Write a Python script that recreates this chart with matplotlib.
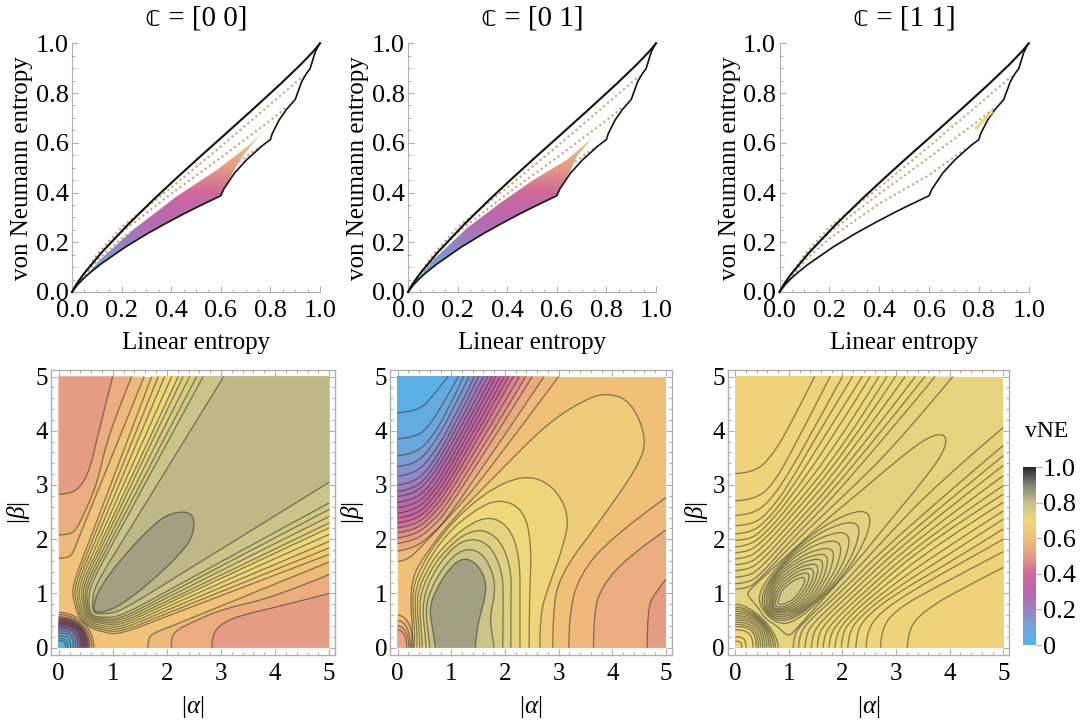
import numpy as np
import matplotlib
matplotlib.use('Agg')
import matplotlib.pyplot as plt
from matplotlib.colors import LinearSegmentedColormap
from matplotlib.patches import PathPatch, Polygon
from matplotlib.path import Path
from matplotlib.ticker import MultipleLocator, FormatStrFormatter

plt.rcParams['font.family'] = ['Liberation Serif', 'DejaVu Sans']
plt.rcParams['mathtext.fontset'] = 'custom'
plt.rcParams['mathtext.rm'] = 'Liberation Serif'
plt.rcParams['mathtext.it'] = 'Liberation Serif:italic'

W, H = 1081, 722

titles = ['\U0001D554 = [0 0]', '\U0001D554 = [0 1]', '\U0001D554 = [1 1]']

# colour scale
cbar_stops = [0.0, 0.1, 0.2, 0.3, 0.4, 0.5, 0.6, 0.7, 0.8, 0.9, 1.0]
cbar_cols = ['#54b4ea', '#6ea6dc', '#9a80c4', '#bb66ad', '#d0689c', '#e69a85',
             '#f0c079', '#efd87a', '#c6c28b', '#85827a', '#262626']
vne = LinearSegmentedColormap.from_list('vne', list(zip(cbar_stops, cbar_cols)))

# ---- top row: entropy boundaries (linear entropy, von Neumann entropy)
upper_bound = [(0, 0), (0.012, 0.022), (0.0239, 0.0402), (0.0474, 0.0727), (0.1164, 0.1557), (0.2256, 0.271),
               (0.3276, 0.3706), (0.4224, 0.459), (0.51, 0.5385), (0.5904, 0.610), (0.7296, 0.735),
               (0.84, 0.836), (0.9216, 0.914), (0.9744, 0.969), (1, 1)]
lower_rank2 = [(0, 0), (0.0238, 0.0312), (0.047, 0.0547), (0.0698, 0.0752), (0.114, 0.1108), (0.216, 0.1815),
               (0.306, 0.2359), (0.384, 0.279), (0.45, 0.3138), (0.504, 0.341), (0.576, 0.3756), (0.6, 0.387)]
lower_rest = [(0.612, 0.414), (0.655, 0.478), (0.702, 0.5296), (0.768, 0.589), (0.8, 0.613), (0.8079, 0.638),
              (0.836, 0.693), (0.864, 0.733), (0.9, 0.774), (0.9263, 0.846), (0.945, 0.878), (0.96, 0.898),
              (0.9804, 0.964), (0.9936, 0.990), (1, 1)]
dotted_1 = [(0, 0), (0.1, 0.15), (0.2, 0.26), (0.4, 0.42), (0.6, 0.585), (0.8, 0.755), (0.933, 0.869)]
dotted_2 = [(0, 0), (0.1, 0.14), (0.2, 0.24), (0.4, 0.395), (0.6, 0.54), (0.8, 0.69), (0.865, 0.743)]
dotted_3 = [(0, 0), (0.1, 0.125), (0.2, 0.215), (0.4, 0.355), (0.6, 0.47), (0.75, 0.578)]

region_00 = lower_rank2 + [(0.626, 0.437), (0.653, 0.49), (0.69, 0.548), (0.75, 0.622), (0.805, 0.678),
                           (0.72, 0.595), (0.583, 0.49), (0.42, 0.383), (0.247, 0.25), (0.113, 0.13)]
region_01 = lower_rank2 + [(0.626, 0.437), (0.653, 0.484), (0.68, 0.544), (0.747, 0.625), (0.82, 0.69),
                           (0.72, 0.60), (0.64, 0.531), (0.505, 0.45), (0.371, 0.357), (0.237, 0.256), (0.102, 0.129)]
segment_11 = [(0.79, 0.66), (0.85, 0.722)]

# ---- bottom left: c = [0 0], symmetric in |alpha| <-> |beta|
p1_base = 0.61
p1_side_levels = [0.50, 0.55, 0.585]
p1_side_curves = [
    [(0, 2.83), (0.18, 2.83), (0.39, 2.94), (0.58, 3.28), (0.76, 4.08), (1.0, 5)],
    [(0, 2.08), (0.15, 2.08), (0.3, 2.14), (0.45, 2.42), (0.72, 3.04), (0.92, 3.96), (1.35, 5)],
    [(0, 1.65), (0.17, 1.65), (0.27, 1.75), (0.36, 2.0), (0.75, 2.95), (1.58, 5)],
]
p1_fan_levels = [0.64, 0.66, 0.68, 0.70, 0.72, 0.74, 0.755, 0.77, 0.79, 0.815]
p1_fan_top = [1.72, 1.84, 1.96, 2.09, 2.21, 2.30, 2.42, 2.55, 2.67, 3.05]
p1_fan_b200 = [0.58, 0.63, 0.69, 0.75, 0.81, 0.86, 0.92, 0.98, 1.04, 1.20]
p1_fan_b115 = [0.25, 0.29, 0.33, 0.37, 0.41, 0.45, 0.49, 0.53, 0.58, 0.67]
p1_fan_b085 = [0.27, 0.31, 0.35, 0.39, 0.43, 0.46, 0.49, 0.52, 0.55, 0.62]
p1_fan_diag = [0.43, 0.45, 0.47, 0.49, 0.51, 0.53, 0.55, 0.57, 0.59, 0.63]
p1_peak_level = 0.855
p1_peak = [(0.64, 0.64), (0.66, 0.87), (0.8, 1.17), (1.22, 1.72), (1.78, 2.3), (2.1, 2.5), (2.5, 2.5)]
p1_core_r = [0.65, 0.61, 0.57, 0.55, 0.53, 0.51, 0.49, 0.47, 0.45, 0.43, 0.41, 0.38, 0.35, 0.31, 0.27, 0.22, 0.17, 0.13]
p1_core_c = [0.55, 0.55, 0.6, 0.6, 0.62, 0.64, 0.66, 0.68, 0.7, 0.7, 0.72, 0.72, 0.75, 0.75, 0.78, 0.8, 0.8, 0.8]
p1_core_levels = [0.58, 0.55, 0.50, 0.46, 0.42, 0.38, 0.35, 0.32, 0.29, 0.26, 0.23, 0.20, 0.16, 0.12, 0.08, 0.03, 0.02, 0.01]

# ---- bottom middle: c = [0 1]
p2_base = 0.60
p2_left_levels = [0.03, 0.06, 0.09, 0.12, 0.15, 0.18, 0.21, 0.24, 0.27, 0.30, 0.33, 0.36, 0.39, 0.42, 0.45, 0.48, 0.51, 0.54, 0.58]
p2_left_curves = [
    [(0, 4.33), (0.36, 4.36), (0.6, 4.57), (0.82, 4.85), (0.94, 5)],
    [(0, 3.85), (0.35, 3.88), (0.6, 4.1), (0.85, 4.5), (1.13, 5)],
    [(0, 3.54), (0.3, 3.57), (0.6, 3.82), (0.9, 4.3), (1.23, 5)],
    [(0, 3.34), (0.3, 3.37), (0.6, 3.65), (0.95, 4.22), (1.33, 5)],
    [(0, 3.16), (0.3, 3.2), (0.6, 3.47), (1.0, 4.12), (1.43, 5)],
    [(0, 3.0), (0.3, 3.04), (0.6, 3.32), (1.0, 3.97), (1.51, 5)],
    [(0, 2.88), (0.3, 2.92), (0.6, 3.2), (1.0, 3.85), (1.6, 5)],
    [(0, 2.79), (0.3, 2.83), (0.6, 3.1), (1.0, 3.72), (1.68, 5)],
    [(0, 2.68), (0.3, 2.72), (0.6, 2.98), (1.0, 3.6), (1.76, 5)],
    [(0, 2.58), (0.3, 2.62), (0.6, 2.87), (1.0, 3.47), (1.83, 5)],
    [(0, 2.48), (0.3, 2.52), (0.6, 2.77), (1.0, 3.35), (1.91, 5)],
    [(0, 2.39), (0.3, 2.43), (0.6, 2.67), (1.0, 3.23), (1.99, 5)],
    [(0, 2.30), (0.3, 2.34), (0.6, 2.57), (1.0, 3.1), (2.07, 5)],
    [(0, 2.21), (0.3, 2.25), (0.6, 2.47), (1.0, 2.98), (2.16, 5)],
    [(0, 2.12), (0.3, 2.16), (0.6, 2.38), (1.0, 2.85), (2.27, 5)],
    [(0, 2.02), (0.3, 2.07), (0.6, 2.28), (1.0, 2.72), (2.39, 5)],
    [(0, 1.92), (0.3, 1.97), (0.6, 2.17), (1.0, 2.6), (2.51, 5)],
    [(0, 1.78), (0.3, 1.83), (0.6, 2.05), (1.0, 2.45), (2.73, 5)],
    [(0, 1.59), (0.17, 1.6), (0.45, 1.87), (0.91, 2.36), (1.53, 3.04), (3.0, 5)],
]
p2_right_levels = [0.50, 0.55, 0.58]
p2_right_curves = [
    [(4.65, 0), (4.65, 0.7), (4.79, 1.01), (5, 1.26)],
    [(3.65, 0), (3.65, 0.64), (3.8, 1.13), (4.3, 1.69), (5, 2.17)],
    [(3.19, 0), (3.19, 0.58), (3.37, 1.32), (3.99, 2.05), (5, 2.77)],
]
p2_hill_levels = [0.65, 0.68, 0.70, 0.72, 0.74, 0.76, 0.79, 0.855]
p2_hill_curves = [
    [(0.26, 0), (0.29, 0.3), (0.24, 0.75), (0.27, 1.3), (0.5, 1.7), (1.0, 2.35), (1.8, 3.15), (2.8, 4.15),
     (3.5, 4.58), (3.9, 4.7), (4.35, 4.55), (4.65, 3.85), (4.48, 3.34), (3.79, 2.36), (3.0, 1.32), (2.89, 0.58), (2.89, 0)],
    [(0.31, 0), (0.33, 0.3), (0.27, 0.8), (0.32, 1.3), (0.85, 2.15), (1.6, 2.85), (2.35, 3.2), (2.9, 3.0),
     (3.2, 2.45), (3.1, 1.9), (2.8, 1.1), (2.65, 0.6), (2.65, 0)],
    [(0.36, 0), (0.37, 0.3), (0.31, 0.8), (0.37, 1.25), (0.85, 2.05), (1.45, 2.55), (1.9, 2.75), (2.35, 2.55),
     (2.5, 1.9), (2.45, 0.8), (2.45, 0)],
    [(0.41, 0), (0.41, 0.3), (0.35, 0.8), (0.42, 1.2), (0.8, 1.85), (1.55, 2.44), (2.05, 2.3), (2.28, 1.7), (2.28, 0.8), (2.28, 0)],
    [(0.46, 0), (0.45, 0.3), (0.40, 0.75), (0.47, 1.15), (0.78, 1.7), (1.35, 2.2), (1.85, 2.1), (2.12, 1.5), (2.11, 0.8), (2.11, 0)],
    [(0.53, 0), (0.51, 0.3), (0.46, 0.7), (0.53, 1.1), (0.8, 1.6), (1.22, 2.02), (1.7, 1.95), (1.96, 1.4), (1.97, 0.8), (1.96, 0)],
    [(0.6, 0), (0.57, 0.3), (0.52, 0.65), (0.58, 1.0), (0.85, 1.5), (1.2, 1.83), (1.55, 1.78), (1.78, 1.4), (1.82, 1.0), (1.72, 0.6), (1.75, 0.3), (1.8, 0)],
    [(0.70, 0), (0.68, 0.2), (0.62, 0.5), (0.6, 0.77), (0.72, 1.08), (0.95, 1.45), (1.2, 1.66), (1.45, 1.58),
     (1.63, 1.3), (1.65, 1.0), (1.55, 0.65), (1.47, 0.3), (1.45, 0)],
]
p2_core_rx = [0.29, 0.24, 0.21, 0.17]
p2_core_ry = [0.60, 0.50, 0.40, 0.33]
p2_core_levels = [0.585, 0.57, 0.55, 0.53]

# ---- bottom right: c = [1 1], symmetric again
p3_base = 0.722
p3_side_levels = [0.668, 0.676, 0.682, 0.687, 0.691, 0.695, 0.698, 0.701, 0.704, 0.707, 0.710, 0.713, 0.716, 0.719]
p3_side_curves = [
    [(0, 3.21), (0.35, 3.22), (0.7, 3.55), (1.05, 4.15), (1.48, 5)],
    [(0, 2.71), (0.35, 2.72), (0.7, 3.0), (1.1, 3.7), (1.77, 5)],
    [(0, 2.44), (0.3, 2.45), (0.65, 2.7), (1.05, 3.3), (1.5, 4.1), (2.0, 5)],
    [(0, 2.25), (0.3, 2.26), (0.6, 2.47), (1.0, 3.0), (1.6, 4.05), (2.19, 5)],
    [(0, 2.10), (0.25, 2.11), (0.55, 2.3), (1.0, 2.85), (1.7, 3.95), (2.37, 5)],
    [(0, 1.98), (0.25, 1.99), (0.5, 2.15), (1.0, 2.72), (1.8, 3.85), (2.52, 5)],
    [(0, 1.86), (0.2, 1.87), (0.5, 2.04), (1.0, 2.6), (1.9, 3.75), (2.68, 5)],
    [(0, 1.75), (0.2, 1.76), (0.45, 1.9), (1.0, 2.48), (2.0, 3.68), (2.83, 5)],
    [(0, 1.64), (0.2, 1.65), (0.45, 1.79), (1.0, 2.37), (2.0, 3.53), (2.99, 5)],
    [(0, 1.53), (0.2, 1.54), (0.45, 1.67), (1.0, 2.26), (2.0, 3.38), (3.17, 5)],
    [(0, 1.42), (0.2, 1.43), (0.45, 1.56), (1.0, 2.15), (2.0, 3.23), (3.36, 5)],
    [(0, 1.30), (0.2, 1.31), (0.45, 1.44), (1.0, 2.05), (2.0, 3.09), (3.54, 5)],
    [(0, 1.18), (0.2, 1.19), (0.45, 1.32), (1.0, 1.95), (2.0, 2.94), (3.73, 5)],
    [(0, 1.08), (0.2, 1.09), (0.4, 1.2), (1.0, 1.85), (2.0, 2.78), (3.0, 3.74), (4.06, 5)],
]
p3_ridge_levels = [0.726, 0.729, 0.732, 0.735, 0.738, 0.741, 0.744, 0.747, 0.750, 0.753, 0.756, 0.76]
p3_ridge_curves = [
    [(0.54, 0.54), (0.42, 0.76), (0.2, 0.98), (0.3, 1.1), (1.0, 1.73), (1.6, 2.28), (2.3, 2.85), (3.0, 3.44), (3.6, 3.9), (3.95, 3.95)],
    [(0.565, 0.565), (0.38, 1.0), (0.93, 1.66), (1.54, 2.18), (2.14, 2.5), (2.52, 2.52)],
    [(0.58, 0.58), (0.45, 0.98), (0.88, 1.57), (1.43, 2.04), (1.97, 2.3), (2.31, 2.31)],
    [(0.595, 0.595), (0.5, 0.97), (0.83, 1.49), (1.33, 1.9), (1.81, 2.12), (2.12, 2.12)],
    [(0.61, 0.61), (0.55, 0.96), (0.79, 1.41), (1.25, 1.78), (1.68, 1.97), (1.96, 1.96)],
    [(0.63, 0.63), (0.59, 0.95), (0.77, 1.34), (1.19, 1.67), (1.57, 1.83), (1.83, 1.83)],
    [(0.65, 0.65), (0.63, 0.94), (0.76, 1.28), (1.14, 1.58), (1.49, 1.72), (1.72, 1.72)],
    [(0.67, 0.67), (0.66, 0.93), (0.77, 1.23), (1.11, 1.5), (1.42, 1.63), (1.63, 1.63)],
    [(0.69, 0.69), (0.69, 0.92), (0.79, 1.19), (1.08, 1.42), (1.35, 1.54), (1.54, 1.54)],
    [(0.71, 0.71), (0.72, 0.92), (0.82, 1.15), (1.05, 1.34), (1.29, 1.46), (1.46, 1.46)],
    [(0.74, 0.74), (0.76, 0.93), (0.85, 1.11), (1.03, 1.27), (1.23, 1.37), (1.38, 1.38)],
    [(0.78, 0.78), (0.82, 0.95), (0.885, 1.08), (1.03, 1.2), (1.19, 1.29), (1.3, 1.3)],
]
p3_core_r = [0.80, 0.75, 0.71, 0.67, 0.63, 0.59, 0.55, 0.51, 0.47, 0.43, 0.39, 0.33, 0.20, 0.12]
p3_core_c = [0.4, 0.45, 0.5, 0.55, 0.6, 0.64, 0.66, 0.7, 0.7, 0.72, 0.75, 0.75, 0.8, 0.8]
p3_core_levels = [0.73, 0.728, 0.726, 0.724, 0.722, 0.72, 0.716, 0.712, 0.708, 0.704, 0.70, 0.695, 0.69, 0.685]

LINE = (0.2, 0.2, 0.14, 0.55)
FRAME = '#b0b0b0'


def px_axes(fig, left, right, top, bottom):
    return fig.add_axes([left / W, 1 - bottom / H, (right - left) / W, (bottom - top) / H])


def swap(pts):
    return [(y, x) for x, y in pts]


def smooth(pts):
    # vertices as control points of quadratic pieces
    verts, codes = [pts[0]], [Path.MOVETO]
    for i in range(1, len(pts) - 1):
        p, q = pts[i], pts[i + 1]
        end = q if i == len(pts) - 2 else ((p[0] + q[0]) / 2, (p[1] + q[1]) / 2)
        verts += [p, end]
        codes += [Path.CURVE3, Path.CURVE3]
    return verts, codes


def smooth_closed(pts):
    n = len(pts)
    mid = lambda a, b: ((a[0] + b[0]) / 2, (a[1] + b[1]) / 2)
    verts, codes = [mid(pts[-1], pts[0])], [Path.MOVETO]
    for i in range(n):
        verts += [pts[i], mid(pts[i], pts[(i + 1) % n])]
        codes += [Path.CURVE3, Path.CURVE3]
    return verts, codes


def draw_level(ax, verts, codes, level, corners):
    fill = Path(verts + list(corners) + [verts[0]], codes + [Path.LINETO] * len(corners) + [Path.CLOSEPOLY])
    ax.add_patch(PathPatch(fill, fc=vne(level), ec='none', zorder=2))
    ax.add_patch(PathPatch(Path(verts, codes), fc='none', ec=LINE, lw=0.95, zorder=3))


def draw_core(ax, rx, ry, level, c):
    verts = [(0, ry), (c * rx, ry), (rx, c * ry), (rx, 0)]
    codes = [Path.MOVETO, Path.CURVE4, Path.CURVE4, Path.CURVE4]
    draw_level(ax, verts, codes, level, [(0, 0)])


def style_map(ax):
    ax.set_xlim(-0.142, 5.107)
    ax.set_ylim(-0.135, 5.12)
    for s in ax.spines.values():
        s.set_color(FRAME)
        s.set_linewidth(1.0)
    ax.xaxis.set_major_locator(MultipleLocator(1))
    ax.yaxis.set_major_locator(MultipleLocator(1))
    ax.xaxis.set_minor_locator(MultipleLocator(0.2))
    ax.yaxis.set_minor_locator(MultipleLocator(0.2))
    ax.tick_params(which='major', direction='in', length=4, width=0.8, color=FRAME, top=True, right=True,
                   labelsize=18)
    ax.tick_params(which='minor', direction='in', length=2, width=0.8, color=FRAME, top=True, right=True)
    ax.tick_params(axis='x', pad=6)
    ax.tick_params(axis='y', pad=2)
    ax.set_xlabel(r'$|\alpha|$', fontsize=18, va='center')
    ax.xaxis.set_label_coords(0.5, -0.182)
    ax.set_ylabel(r'$|\beta|$', fontsize=18, va='center')


def draw_entropy(ax, region, title):
    for d in (dotted_1, dotted_2, dotted_3):
        ax.plot(*zip(*d), color='#c9a27c', lw=1.5, ls=(0, (1, 1.5)), zorder=1)
    if region is not None:
        img = ax.imshow(np.linspace(0, 1, 256)[:, None], extent=(0, 1, 0, 1), origin='lower', cmap=vne,
                        vmin=0, vmax=1, aspect='auto', zorder=2)
        img.set_clip_path(Polygon(region, transform=ax.transData))
    ax.plot(*zip(*upper_bound), color='#111111', lw=1.5, zorder=3, clip_on=False)
    ax.plot(*zip(*(lower_rank2 + lower_rest)), color='#111111', lw=1.2, zorder=3, clip_on=False)
    ax.set_xlim(0, 1)
    ax.set_ylim(0, 1)
    ax.spines['top'].set_visible(False)
    ax.spines['right'].set_visible(False)
    for s in ('left', 'bottom'):
        ax.spines[s].set_color(FRAME)
    ax.xaxis.set_major_locator(MultipleLocator(0.2))
    ax.yaxis.set_major_locator(MultipleLocator(0.2))
    ax.xaxis.set_minor_locator(MultipleLocator(0.05))
    ax.yaxis.set_minor_locator(MultipleLocator(0.05))
    ax.xaxis.set_major_formatter(FormatStrFormatter('%.1f'))
    ax.yaxis.set_major_formatter(FormatStrFormatter('%.1f'))
    ax.tick_params(which='major', direction='in', length=4.5, width=0.8, color=FRAME, labelsize=19)
    ax.tick_params(which='minor', direction='in', length=2.5, width=0.7, color=FRAME)
    ax.tick_params(axis='x', pad=6)
    ax.tick_params(axis='y', pad=2.5)
    ax.set_xlabel('Linear entropy', fontsize=18, va='center')
    ax.xaxis.set_label_coords(0.5, -0.205)
    ax.set_ylabel('von Neumann entropy', fontsize=18, va='center')
    ax.yaxis.set_label_coords(-0.2, 0.5)
    ax.set_title(title, fontsize=21, pad=13)


fig = plt.figure(figsize=(W / 100, H / 100), dpi=100)

top_spans = [(72, 320), (408, 656), (779.5, 1028.7)]
regions = [region_00, region_01, None]
top_axes = []
for span, reg, ttl in zip(top_spans, regions, titles):
    ax = px_axes(fig, span[0], span[1], 43.3, 292)
    draw_entropy(ax, reg, ttl)
    top_axes.append(ax)
top_axes[2].plot(*zip(*segment_11), color=vne(0.68), lw=2.2, zorder=4)

map_spans = [(51, 335), (390, 671.7), (727.7, 1009)]
ylabel_x = [18, 353, 697]
map_axes = []
for span, lx in zip(map_spans, ylabel_x):
    ax = px_axes(fig, span[0], span[1], 370, 655)
    style_map(ax)
    ax.yaxis.set_label_coords((lx - span[0]) / (span[1] - span[0]), 0.5)
    map_axes.append(ax)

# c = [0 0]
ax = map_axes[0]
ax.fill([0, 5, 5, 0], [0, 0, 5, 5], color=vne(p1_base), zorder=1, lw=0)
for lvl, pts in list(zip(p1_side_levels, p1_side_curves))[::-1]:
    draw_level(ax, *smooth(pts), lvl, [(0, 5)])
    draw_level(ax, *smooth(swap(pts)), lvl, [(5, 0)])
for i, lvl in enumerate(p1_fan_levels):
    half = [(p1_fan_top[i], 5), (p1_fan_b200[i], 2), (p1_fan_b115[i], 1.15), (p1_fan_b085[i], 0.85), (p1_fan_diag[i], p1_fan_diag[i])]
    full = half + swap(half[:-1])[::-1]
    draw_level(ax, *smooth(full), lvl, [(5, 5)])
draw_level(ax, *smooth_closed(p1_peak + swap(p1_peak[1:-1])[::-1]), p1_peak_level, [])
for r, c, lvl in zip(p1_core_r, p1_core_c, p1_core_levels):
    draw_core(ax, r, r, lvl, c)

# c = [0 1]
ax = map_axes[1]
ax.fill([0, 5, 5, 0], [0, 0, 5, 5], color=vne(p2_base), zorder=1, lw=0)
for lvl, pts in list(zip(p2_left_levels, p2_left_curves))[::-1]:
    draw_level(ax, *smooth(pts), lvl, [(0, 5)])
for lvl, pts in list(zip(p2_right_levels, p2_right_curves))[::-1]:
    draw_level(ax, *smooth(pts), lvl, [(5, 0)])
for lvl, pts in zip(p2_hill_levels, p2_hill_curves):
    draw_level(ax, *smooth(pts), lvl, [])
for rx, ry, lvl in zip(p2_core_rx, p2_core_ry, p2_core_levels):
    draw_core(ax, rx, ry, lvl, 0.6)

# c = [1 1]
ax = map_axes[2]
ax.fill([0, 5, 5, 0], [0, 0, 5, 5], color=vne(p3_base), zorder=1, lw=0)
for lvl, pts in list(zip(p3_side_levels, p3_side_curves))[::-1]:
    draw_level(ax, *smooth(pts), lvl, [(0, 5)])
    draw_level(ax, *smooth(swap(pts)), lvl, [(5, 0)])
for lvl, pts in zip(p3_ridge_levels, p3_ridge_curves):
    draw_level(ax, *smooth_closed(pts + swap(pts[1:-1])[::-1]), lvl, [])
for r, c, lvl in zip(p3_core_r, p3_core_c, p3_core_levels):
    draw_core(ax, r, r, lvl, c)

# colour bar
cax = px_axes(fig, 1023.3, 1036, 467.3, 645)
cax.imshow(np.linspace(0, 1, 256)[:, None], extent=(0, 1, 0, 1), origin='lower', cmap=vne, vmin=0, vmax=1, aspect='auto')
cax.set_xticks([])
cax.yaxis.tick_right()
cax.set_yticks([0, 0.2, 0.4, 0.6, 0.8, 1.0])
cax.set_yticklabels(['0', '0.2', '0.4', '0.6', '0.8', '1.0'])
cax.tick_params(axis='y', direction='out', length=4, width=0.8, color=FRAME, labelsize=19, pad=1)
for s in cax.spines.values():
    s.set_visible(False)
cax.text(0.13, 1.2, 'vNE', transform=cax.transAxes, fontsize=17, ha='left', va='center')

fig.savefig('out.png', dpi=100)
